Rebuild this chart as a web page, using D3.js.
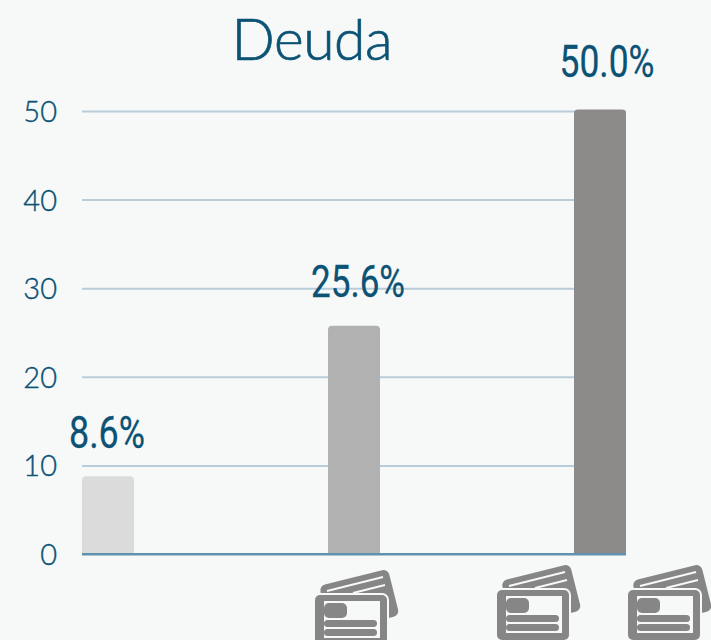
<!DOCTYPE html>
<html>
<head>
<meta charset="utf-8">
<script src="https://cdnjs.cloudflare.com/ajax/libs/d3/7.8.5/d3.min.js"></script>
<style>
  html, body { margin: 0; padding: 0; background: #f7f9f9; overflow: hidden; }
  svg { display: block; }
</style>
</head>
<body>
<svg id="chart"></svg>
<script>
let width = 711, height = 640;

const categories = ["a", "b", "c"];
const values = [8.6, 25.6, 50.0];
const valueLabels = ["8.6%", "25.6%", "50.0%"];
const barColors = ["#dbdbdb", "#b1b1b1", "#8c8b89"];
const yTicks = [0, 10, 20, 30, 40, 50];

const textColor = "#0b5274";
const iconColor = "#868686";
const bgColor = "#f7f9f9";

const svg = d3.select("#chart")
  .attr("width", width)
  .attr("height", height)
  .style("background", bgColor);

const x = d3.scaleBand()
  .domain(categories)
  .range([82, 626])
  .paddingInner(1 - 52 / 246)
  .paddingOuter(0);

const y = d3.scaleLinear()
  .domain([0, 50])
  .range([554, 111]);

// title
svg.append("text")
  .attr("x", 312)
  .attr("y", 60)
  .attr("text-anchor", "middle")
  .attr("font-family", "Lato")
  .attr("font-weight", 300)
  .attr("font-size", 57)
  .attr("textLength", 161)
  .attr("lengthAdjust", "spacing")
  .attr("fill", textColor)
  .attr("stroke", textColor)
  .attr("stroke-width", 0.7)
  .text("Deuda");

// y axis with gridlines
const yAxis = svg.append("g")
  .attr("transform", "translate(82,0)")
  .call(d3.axisLeft(y).tickValues(yTicks).tickSize(0).tickPadding(25).tickSizeInner(-544));

yAxis.select(".domain").remove();
yAxis.selectAll(".tick line")
  .attr("stroke", d => d === 0 ? "#5f92ad" : "#b8ccd9")
  .attr("stroke-width", 2);
yAxis.selectAll(".tick text")
  .attr("font-family", "Lato")
  .attr("font-weight", 300)
  .attr("font-size", 29)
  .attr("fill", textColor)
  .attr("stroke", textColor)
  .attr("stroke-width", 0.4)
  .attr("dy", "0.36em");

// bars, only the top corners are rounded
svg.append("g")
  .selectAll("path")
  .data(categories)
  .join("path")
  .attr("d", (d, i) => {
    const x0 = x(d), w = x.bandwidth(), top = y(values[i]) - 1.5, r = 4;
    return `M${x0},${y(0)}V${top + r}Q${x0},${top} ${x0 + r},${top}H${x0 + w - r}Q${x0 + w},${top} ${x0 + w},${top + r}V${y(0)}Z`;
  })
  .attr("fill", (d, i) => barColors[i]);

// baseline on top of the bars
svg.append("line")
  .attr("x1", 82).attr("x2", 626)
  .attr("y1", y(0)).attr("y2", y(0))
  .attr("stroke", "#5f92ad")
  .attr("stroke-width", 2);

// value labels, squeezed because no condensed face is installed
const labelDx = [-1, 4, 7];
const labelDy = [-30, -30, -34];
const labelWidths = [76, 94, 95];

svg.append("g")
  .selectAll("text")
  .data(categories)
  .join("text")
  .attr("x", (d, i) => x(d) + x.bandwidth() / 2 + labelDx[i])
  .attr("y", (d, i) => y(values[i]) + labelDy[i])
  .attr("text-anchor", "middle")
  .attr("font-family", "Roboto")
  .attr("font-size", 44)
  .attr("textLength", (d, i) => labelWidths[i])
  .attr("lengthAdjust", "spacingAndGlyphs")
  .attr("fill", textColor)
  .attr("stroke", textColor)
  .attr("stroke-width", 0.3)
  .text((d, i) => valueLabels[i]);

// credit card icons under the axis
function drawIcon(g) {
  // back card
  g.append("rect")
    .attr("width", 71).attr("height", 48).attr("rx", 6)
    .attr("transform", "translate(4,-9) rotate(-14)")
    .attr("fill", iconColor);
  g.append("line")
    .attr("x1", 12).attr("y1", -4).attr("x2", 68).attr("y2", -18)
    .attr("stroke", bgColor).attr("stroke-width", 2);
  g.append("line")
    .attr("x1", 38).attr("y1", -2).attr("x2", 70).attr("y2", -10)
    .attr("stroke", bgColor).attr("stroke-width", 2);

  // front card
  g.append("rect")
    .attr("x", -2).attr("y", -2).attr("width", 76).attr("height", 56).attr("rx", 7)
    .attr("fill", bgColor);
  g.append("rect")
    .attr("width", 72).attr("height", 50).attr("rx", 5)
    .attr("fill", iconColor);
  g.append("rect")
    .attr("x", 9).attr("y", 6).attr("width", 56).attr("height", 37)
    .attr("fill", bgColor);
  g.append("rect")
    .attr("x", 9).attr("y", 8).attr("width", 23).attr("height", 15).attr("rx", 5)
    .attr("fill", iconColor);
  g.append("rect")
    .attr("x", 9).attr("y", 25).attr("width", 53).attr("height", 7).attr("rx", 3.5)
    .attr("fill", iconColor);
  g.append("rect")
    .attr("x", 9).attr("y", 34).attr("width", 53).attr("height", 7).attr("rx", 3.5)
    .attr("fill", iconColor);
}

const iconSpots = [[315, 595], [497, 590], [628, 590]];

iconSpots.forEach(p => {
  svg.append("g")
    .attr("transform", `translate(${p[0]},${p[1]})`)
    .call(drawIcon);
});
</script>
</body>
</html>
